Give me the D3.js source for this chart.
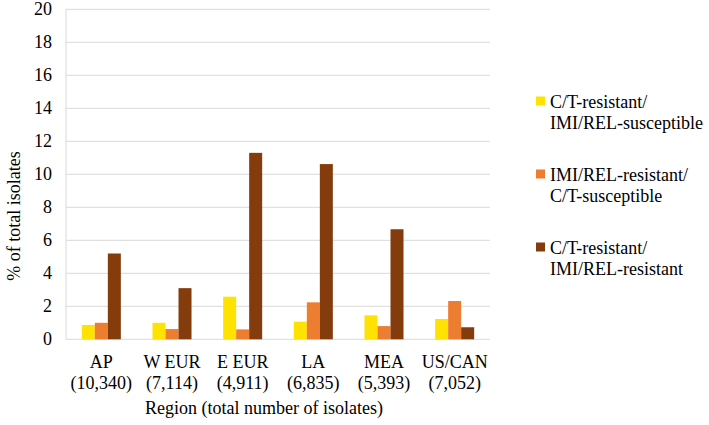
<!DOCTYPE html>
<html lang="en">
<head>
    <meta charset="UTF-8">
    <title>Resistance by region</title>
    <script src="https://d3js.org/d3.v7.min.js"></script>
    <style>
        body { margin: 0; background: #ffffff; }
    </style>
</head>
<body>
<svg id="chart" width="709" height="425"></svg>
<script>
    // chart data
    const regions = ["AP", "W EUR", "E EUR", "LA", "MEA", "US/CAN"];
    const isolateCounts = ["(10,340)", "(7,114)", "(4,911)", "(6,835)", "(5,393)", "(7,052)"];
    const seriesNames = [
        ["C/T-resistant/", "IMI/REL-susceptible"],
        ["IMI/REL-resistant/", "C/T-susceptible"],
        ["C/T-resistant/", "IMI/REL-resistant"]
    ];
    const ctResImiSus = [0.87, 1.0, 2.58, 1.07, 1.45, 1.23];
    const imiResCtSus = [1.0, 0.62, 0.6, 2.24, 0.8, 2.32];
    const bothRes = [5.2, 3.1, 11.3, 10.62, 6.67, 0.73];
    const yTicks = [0, 2, 4, 6, 8, 10, 12, 14, 16, 18, 20];
    const colors = ["#ffe200", "#ed7d31", "#843c0c"];

    const series = [ctResImiSus, imiResCtSus, bothRes];
    const serif = "'Liberation Serif', serif";

    const svg = d3.select("#chart");
    const plotLeft = 66, plotRight = 490, plotTop = 9.3, plotBottom = 339.3;

    const x0 = d3.scaleBand()
        .domain(regions)
        .range([plotLeft, plotRight])
        .paddingInner(0.448)
        .paddingOuter(0.224);

    const x1 = d3.scaleBand()
        .domain([0, 1, 2])
        .range([0, x0.bandwidth()]);

    const y = d3.scaleLinear()
        .domain([0, 20])
        .range([plotBottom, plotTop]);

    // gridlines
    svg.append("g")
        .selectAll("line")
        .data(yTicks)
        .enter()
        .append("line")
        .attr("x1", plotLeft)
        .attr("x2", plotRight)
        .attr("y1", d => y(d))
        .attr("y2", d => y(d))
        .attr("stroke", "#d9d9d9")
        .attr("stroke-width", 1);

    // left axis line
    svg.append("line")
        .attr("x1", plotLeft)
        .attr("x2", plotLeft)
        .attr("y1", y(20))
        .attr("y2", y(0))
        .attr("stroke", "#d9d9d9");

    // y tick labels
    svg.append("g")
        .selectAll("text")
        .data(yTicks)
        .enter()
        .append("text")
        .attr("x", 52)
        .attr("y", d => y(d))
        .attr("dy", "0.34em")
        .attr("text-anchor", "end")
        .attr("font-family", serif)
        .attr("font-size", 18)
        .text(d => d);

    // bars
    const groups = svg.append("g")
        .selectAll("g")
        .data(regions)
        .enter()
        .append("g")
        .attr("transform", d => `translate(${x0(d)},0)`);

    groups.selectAll("rect")
        .data((d, i) => series.map((s, k) => ({ k: k, v: s[i] })))
        .enter()
        .append("rect")
        .attr("x", d => x1(d.k))
        .attr("y", d => y(d.v))
        .attr("width", x1.bandwidth())
        .attr("height", d => y(0) - y(d.v))
        .attr("fill", d => colors[d.k]);

    // category labels (two lines)
    const catLabels = svg.append("g")
        .selectAll("text")
        .data(regions)
        .enter()
        .append("text")
        .attr("text-anchor", "middle")
        .attr("font-family", serif)
        .attr("font-size", 18);

    catLabels.append("tspan")
        .attr("x", d => x0(d) + x0.bandwidth() / 2)
        .attr("y", 368)
        .text(d => d);

    catLabels.append("tspan")
        .attr("x", d => x0(d) + x0.bandwidth() / 2)
        .attr("y", 389)
        .text((d, i) => isolateCounts[i]);

    // axis titles
    svg.append("text")
        .attr("x", 264)
        .attr("y", 414)
        .attr("text-anchor", "middle")
        .attr("font-family", serif)
        .attr("font-size", 18)
        .text("Region (total number of isolates)");

    svg.append("text")
        .attr("transform", "translate(20,216) rotate(-90)")
        .attr("text-anchor", "middle")
        .attr("font-family", serif)
        .attr("font-size", 18)
        .text("% of total isolates");

    // legend
    const legend = svg.append("g")
        .selectAll("g")
        .data(seriesNames)
        .enter()
        .append("g")
        .attr("transform", (d, i) => `translate(536,${101 + i * 73})`);

    legend.append("rect")
        .attr("x", 0)
        .attr("y", -4.5)
        .attr("width", 9)
        .attr("height", 9)
        .attr("fill", (d, i) => colors[i]);

    const legendText = legend.append("text")
        .attr("font-family", serif)
        .attr("font-size", 18);

    legendText.append("tspan")
        .attr("x", 14)
        .attr("y", 6.5)
        .text(d => d[0]);

    legendText.append("tspan")
        .attr("x", 14)
        .attr("y", 28)
        .text(d => d[1]);
</script>
</body>
</html>
